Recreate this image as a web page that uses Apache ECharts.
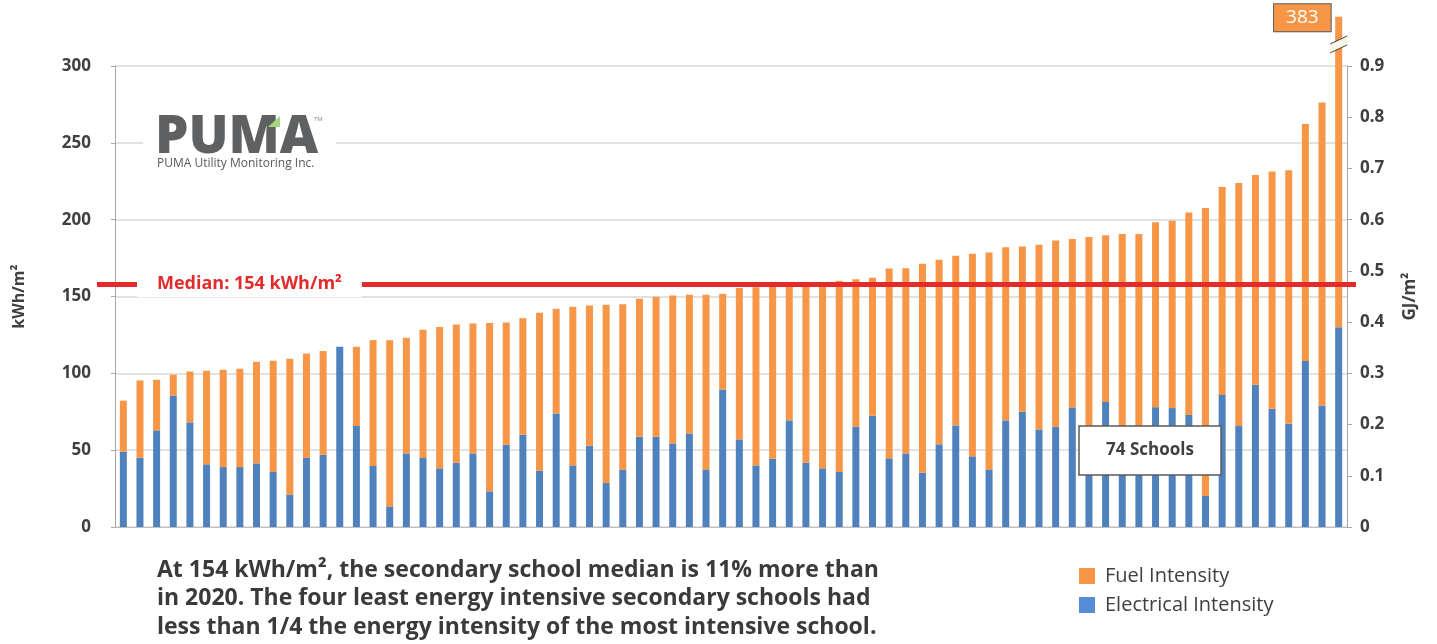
<!DOCTYPE html>
<html>
<head>
<meta charset="utf-8">
<title>Secondary school energy intensity</title>
<script src="https://cdn.jsdelivr.net/npm/echarts@6/dist/echarts.min.js"></script>
<style>
  html, body { margin: 0; padding: 0; background: #fff; }
  #chart { width: 1437px; height: 644px; }
</style>
</head>
<body>
<div id="chart"></div>
<script>
// electrical (bottom) and fuel (top) intensity per school, kWh/m2, sorted by total
const electrical = [
  49, 45, 62.9, 85.6, 68.1, 40.8, 39, 39, 41.4, 35.8, 21.2, 45, 47, 117.3, 65.7,
  39.7, 13.4, 47.9, 44.9, 38.2, 41.8, 47.9, 23.2, 53.5, 60, 36.6, 73.9, 40.1, 52.9,
  28.6, 37.3, 58.7, 58.7, 54.4, 60.9, 37.5, 89.5, 57, 40.1, 44.4, 69.4, 41.8, 38.2,
  35.8, 65.3, 72.4, 44.7, 47.9, 35.3, 53.8, 66.1, 46, 37.5, 69.4, 75, 63.5, 65.3,
  77.8, 55, 81.4, 58, 48, 78, 77.4, 72.9, 20.2, 85.9, 65.7, 92.6, 76.9, 67.3, 108.1,
  79.1, 130
]
const fuel = [
  33.2, 50.4, 32.9, 13.5, 33.1, 60.9, 63.3, 64, 66.1, 72.4, 88.3, 67.9, 67.5, 0, 51.6,
  81.9, 108.2, 75.2, 83.4, 91.9, 90, 84.6, 109.5, 79.6, 75.9, 102.8, 68.1, 103.2, 91.3,
  116, 107.7, 89.8, 91.1, 96.3, 90.2, 113.6, 62.2, 98.6, 115.9, 112.1, 87.6, 115.2, 119.3,
  124.4, 96, 89.8, 123.5, 120.5, 136, 120.1, 110.4, 131.8, 141.1, 112.7, 107.5, 120.1, 121.1,
  109.7, 133.8, 108.5, 132.6, 142.6, 120.4, 121.9, 131.8, 187.4, 135.4, 158.1, 136.5, 154.5, 164.8, 154.2,
  197.1, 253
]
const schools = electrical.map((_, i) => 'School ' + (i + 1))

const leftTicks = { min: 0, max: 300, interval: 50 }
const rightTicks = { min: 0, max: 0.9, interval: 0.1 }
const medianValue = 154
const medianLineAt = 158 // where the median line sits in the picture
const brokenBarTop = 332 // the outlier bar is drawn cut off here
const breakMarkAt = 315

const last = fuel.length - 1
const outlierTotal = Math.round(electrical[last] + fuel[last])
const fuelShown = fuel.map((v, i) => (i === last ? brokenBarTop - electrical[i] : v))

const axisFont = { fontFamily: 'Open Sans', fontWeight: 'bold', fontSize: 17, color: '#404040' }

const chart = echarts.init(document.getElementById('chart'))
chart.setOption({
  animation: false,
  backgroundColor: '#fff',
  textStyle: { fontFamily: 'Open Sans' },
  title: {
    text: 'At 154 kWh/m², the secondary school median is 11% more than\n' +
      'in 2020. The four least energy intensive secondary schools had\n' +
      'less than 1/4 the energy intensity of the most intensive school.',
    left: 157,
    top: 556,
    padding: 0,
    textStyle: {
      fontFamily: 'Open Sans',
      fontWeight: 'bold',
      fontSize: 23,
      lineHeight: 28.5,
      color: '#3a3a3a'
    }
  },
  legend: {
    orient: 'vertical',
    left: 1079,
    top: 566,
    itemWidth: 16,
    itemHeight: 16,
    itemGap: 9,
    padding: 0,
    data: [
      { name: 'Fuel Intensity', icon: 'rect' },
      { name: 'Electrical Intensity', icon: 'rect', itemStyle: { color: '#558ED5' } }
    ],
    textStyle: { fontFamily: 'Open Sans', fontSize: 20, color: '#404040', padding: [0, 0, 0, 5] }
  },
  grid: { left: 115, right: 90, top: 66, bottom: 117 },
  xAxis: {
    type: 'category',
    data: schools,
    axisLabel: { show: false },
    axisTick: { show: false },
    axisLine: { lineStyle: { color: '#bfbfbf', width: 1 } }
  },
  yAxis: [
    {
      type: 'value',
      min: leftTicks.min,
      max: leftTicks.max,
      interval: leftTicks.interval,
      name: 'kWh/m²',
      nameLocation: 'middle',
      nameRotate: 90,
      nameGap: 88,
      nameTextStyle: { fontFamily: 'Open Sans', fontWeight: 'bold', fontSize: 16, color: '#404040' },
      axisLine: { show: true, lineStyle: { color: '#a6a6a6' } },
      axisTick: { show: true, length: 4, lineStyle: { color: '#a6a6a6' } },
      axisLabel: Object.assign({ margin: 24 }, axisFont),
      splitLine: { lineStyle: { color: '#d9d9d9', width: 1.5 } }
    },
    {
      type: 'value',
      position: 'right',
      min: rightTicks.min,
      max: rightTicks.max,
      interval: rightTicks.interval,
      name: 'GJ/m²',
      nameLocation: 'middle',
      nameRotate: 90,
      nameGap: 55,
      nameTextStyle: { fontFamily: 'Open Sans', fontWeight: 'bold', fontSize: 17, color: '#404040' },
      axisLine: { show: true, lineStyle: { color: '#a6a6a6' } },
      axisTick: { show: true, length: 5, lineStyle: { color: '#a6a6a6' } },
      axisLabel: Object.assign({ margin: 13 }, axisFont),
      splitLine: { show: false }
    }
  ],
  series: [
    {
      name: 'Electrical Intensity',
      type: 'bar',
      stack: 'total',
      barWidth: 7,
      clip: false,
      itemStyle: { color: '#4F81BD' },
      data: electrical,
      markLine: {
        silent: true,
        symbol: 'none',
        z: 10,
        lineStyle: { color: '#E32B2B', width: 5, type: 'solid' },
        label: {
          show: true,
          position: 'insideStart',
          distance: 40,
          formatter: 'Median: ' + medianValue + ' kWh/m²',
          backgroundColor: '#fff',
          padding: [4, 20, 4, 20],
          fontFamily: 'Open Sans',
          fontWeight: 'bold',
          fontSize: 18,
          color: '#E32B2B'
        },
        data: [[{ x: 97, yAxis: medianLineAt }, { x: 1356, yAxis: medianLineAt }]]
      }
    },
    {
      name: 'Fuel Intensity',
      type: 'bar',
      stack: 'total',
      barWidth: 7,
      clip: false,
      itemStyle: { color: '#F79646' },
      data: fuelShown
    }
  ],
  graphic: [
    // logo
    { id: 'logoBg', type: 'rect', z: 100, shape: { x: 143, y: 104, width: 193, height: 76 }, style: { fill: '#fff' } },
    {
      id: 'logo', type: 'text', z: 101, left: 155, top: 111,
      style: { text: 'PUMA', font: '800 53px "Open Sans"', fill: '#5f6062' }
    },
    {
      id: 'logoLeaf', type: 'polygon', z: 102,
      shape: { points: [[280, 116], [268, 127], [280, 127]] },
      style: { fill: '#a5d67f' }
    },
    {
      id: 'logoTm', type: 'text', z: 101, left: 314, top: 116,
      style: { text: 'TM', font: '6px "Open Sans"', fill: '#8a8a8a' }
    },
    {
      id: 'logoSub', type: 'text', z: 101, left: 157, top: 158,
      style: { text: 'PUMA Utility Monitoring Inc.', font: '12px "Open Sans"', fill: '#595959' }
    },
    // count box
    {
      id: 'countBox', type: 'rect', z: 100,
      shape: { x: 1079, y: 426, width: 142, height: 49 },
      style: { fill: '#fff', stroke: '#595959', lineWidth: 1.5 }
    },
    {
      id: 'countText', type: 'text', z: 101, x: 1150, y: 450.5,
      style: {
        text: '74 Schools', font: 'bold 17px "Open Sans"', fill: '#404040',
        textAlign: 'center', textVerticalAlign: 'middle'
      }
    }
  ]
})

// the outlier bar runs past the axis: break mark and value tag, placed through the axis scales
const topPt = chart.convertToPixel({ seriesIndex: 1 }, [schools[last], brokenBarTop])
const brkPt = chart.convertToPixel({ seriesIndex: 1 }, [schools[last], breakMarkAt])
const bx = brkPt[0]
const by = brkPt[1]
chart.setOption({
  graphic: [
    {
      id: 'breakFill', type: 'polygon', z: 110,
      shape: { points: [[bx - 8.5, by + 1], [bx + 8.5, by - 7], [bx + 8.5, by + 2], [bx - 8.5, by + 10]] },
      style: { fill: '#f6f6e6' }
    },
    {
      id: 'breakLine1', type: 'polyline', z: 111,
      shape: { points: [[bx - 8.5, by + 1], [bx + 8.5, by - 7]] },
      style: { stroke: '#404040', lineWidth: 1 }
    },
    {
      id: 'breakLine2', type: 'polyline', z: 111,
      shape: { points: [[bx - 8.5, by + 10], [bx + 8.5, by + 2]] },
      style: { stroke: '#404040', lineWidth: 1 }
    },
    {
      id: 'outlierTag', type: 'text', z: 110, x: topPt[0] - 8, y: topPt[1] + 1,
      style: {
        text: String(outlierTotal),
        font: '19px "Open Sans"',
        fill: '#fff',
        align: 'right',
        verticalAlign: 'middle',
        backgroundColor: '#F79646',
        borderColor: '#595959',
        borderWidth: 1,
        padding: [4, 12, 4, 12]
      }
    }
  ]
})
</script>
</body>
</html>
